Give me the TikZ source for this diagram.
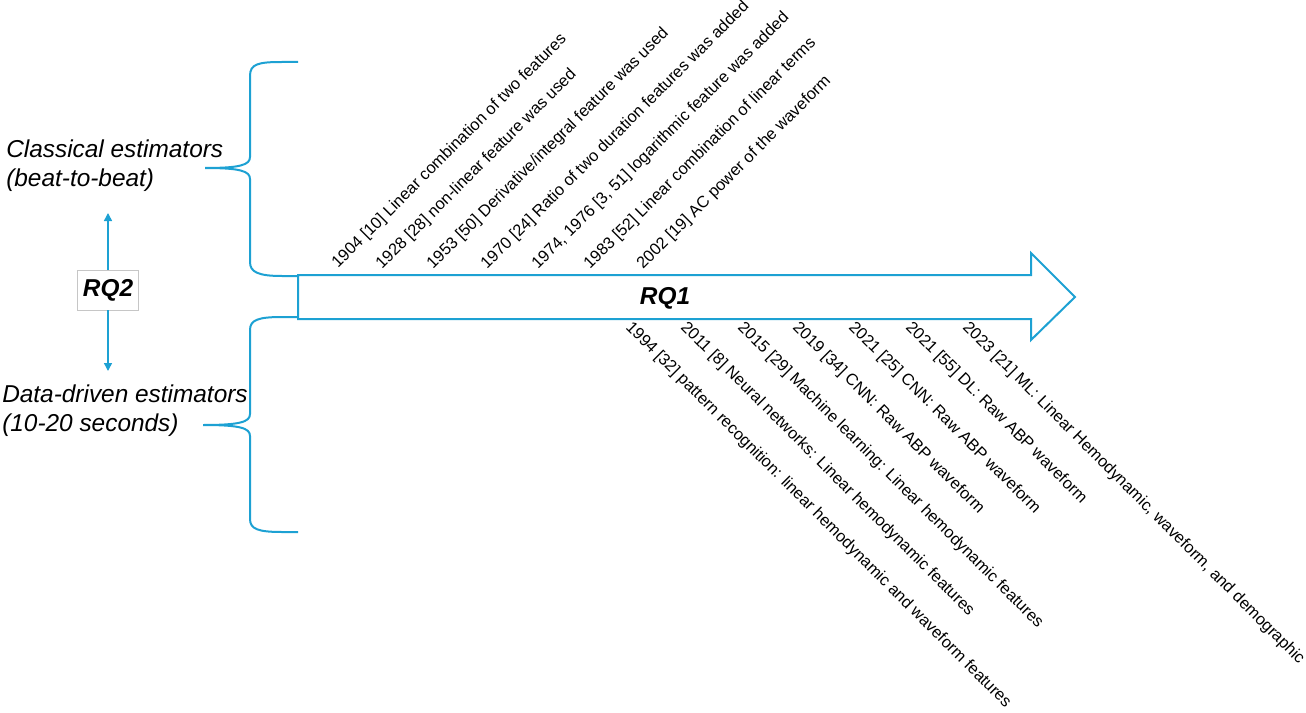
\documentclass[tikz,border=0pt]{standalone}
\usepackage{fontspec}
\setmainfont{Liberation Sans}
\usetikzlibrary{arrows.meta}
\definecolor{rqblue}{RGB}{29,161,211}
\tikzset{
  rqline/.style={draw=rqblue, line width=1.5pt},
  eventup/.style={rotate=45, anchor=base west, inner sep=0pt, font=\fontsize{12.3}{14.8}\selectfont},
  eventdown/.style={rotate=-45, anchor=base west, inner sep=0pt, font=\fontsize{12.3}{14.8}\selectfont},
  estlabel/.style={anchor=west, align=left, inner sep=0pt, font=\fontsize{18.3}{21.75}\selectfont\itshape}
}
\begin{document}
\begin{tikzpicture}[x=0.75pt, y=-0.75pt, >={Triangle[length=6pt,width=6pt]}]
  \useasboundingbox (0,0) rectangle (1306,713);
  % timeline arrow
  \draw[rqline, fill=white, line join=miter] (298,275) -- (1031,275) -- (1031,253) -- (1075,297)
    -- (1031,340) -- (1031,319) -- (298,319) -- cycle;
  \node[font=\fontsize{18.3}{22}\selectfont\bfseries\itshape] at (665,298) (rq1) {RQ1};
  % braces
  \draw[rqline] (298,62) -- (282,62) .. controls (258,62) and (250,64) .. (250,76) -- (250,157)
    .. controls (250,165) and (240,168) .. (205,168) .. controls (240,168) and (250,171) .. (250,179)
    -- (250,262) .. controls (250,272) and (258,276) .. (282,276) -- (298,276);
  \draw[rqline] (298,317) -- (282,317) .. controls (258,317) and (250,320) .. (250,330) -- (250,414)
    .. controls (250,422) and (240,425) .. (203,425) .. controls (240,425) and (250,428) .. (250,436)
    -- (250,519) .. controls (250,529) and (258,532) .. (282,532) -- (298,532);
  \node[estlabel] at (6,166) (classic) {Classical estimators\\(beat-to-beat)};
  \node[estlabel] at (2,411) (datadriven) {Data-driven estimators\\(10-20 seconds)};
  % RQ2
  \node[draw=gray!45, line width=0.6pt, minimum width=45.75pt, minimum height=30pt, inner sep=0pt,
    font=\fontsize{18.3}{22}\selectfont\bfseries\itshape] at (108,290) (rq2) {RQ2};
  \coordinate (rq2up) at (108,213);
  \coordinate (rq2down) at (108,371);
  \draw[->, draw=rqblue, fill=rqblue, line width=1.1pt] (rq2) -- (rq2up);
  \draw[->, draw=rqblue, fill=rqblue, line width=1.1pt] (rq2) -- (rq2down);
  % classical events
  \node[eventup] at (338,269) (ev1904) {1904 [10] Linear combination of two features};
  \node[eventup] at (382,270) (ev1928) {1928 [28] non-linear feature was used};
  \node[eventup] at (433,270) (ev1953) {1953 [50] Derivative/integral feature was used};
  \node[eventup] at (487,270) (ev1970) {1970 [24] Ratio of two duration features was added};
  \node[eventup] at (538,270) (ev1974) {1974, 1976 [3, 51] logarithmic feature was added};
  \node[eventup] at (590,270) (ev1983) {1983 [52] Linear combination of linear terms};
  \node[eventup] at (643,270) (ev2002) {2002 [19] AC power of the waveform};
  % data-driven events
  \node[eventdown] at (625,328) (ev1994) {1994 [32] pattern recognition: linear hemodynamic and waveform features};
  \node[eventdown] at (680,328) (ev2011) {2011 [8] Neural networks: Linear hemodynamic features};
  \node[eventdown] at (737,328) (ev2015) {2015 [29] Machine learning: Linear hemodynamic features};
  \node[eventdown] at (792,328) (ev2019) {2019 [34] CNN: Raw ABP waveform};
  \node[eventdown] at (848,328) (ev2021a) {2021 [25] CNN: Raw ABP waveform};
  \node[eventdown] at (905,328) (ev2021b) {2021 [55] DL: Raw ABP waveform};
  \node[eventdown] at (962,328) (ev2023) {2023 [21] ML: Linear Hemodynamic, waveform, and demographic};
\end{tikzpicture}
\end{document}
